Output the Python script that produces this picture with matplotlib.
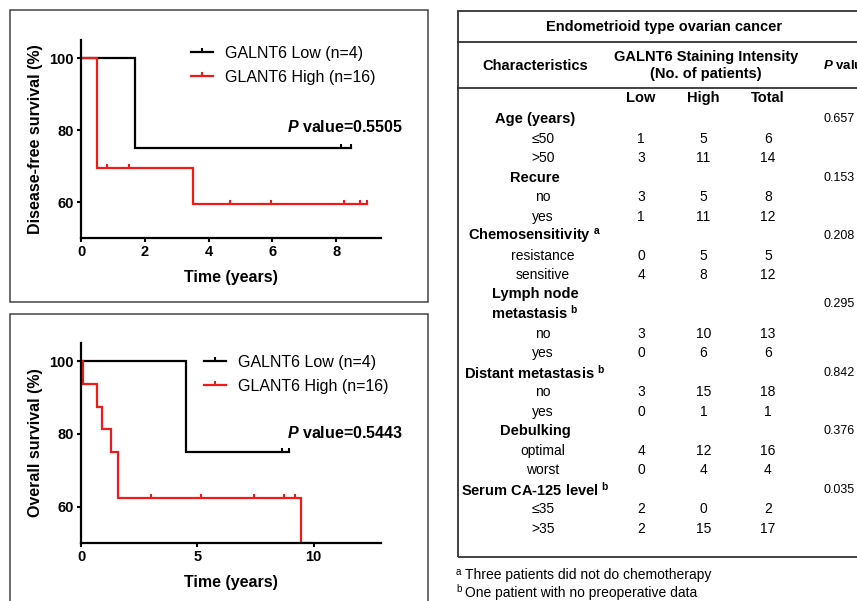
import numpy as np
import matplotlib
matplotlib.use('Agg')
import matplotlib.pyplot as plt
from matplotlib.lines import Line2D
from matplotlib.patches import Rectangle
from matplotlib.path import Path

plt.rcParams['font.family'] = ['Liberation Sans', 'DejaVu Sans']
plt.rcParams['mathtext.fontset'] = 'custom'
plt.rcParams['mathtext.rm'] = 'Liberation Sans'
plt.rcParams['mathtext.it'] = 'Liberation Sans:italic:bold'
plt.rcParams['mathtext.bf'] = 'Liberation Sans:bold'

# ---- Kaplan-Meier data ----
legend_labels = ['GALNT6 Low (n=4)', 'GLANT6 High (n=16)']

dfs_low_t = [0, 1.7, 8.45]
dfs_low_s = [100, 75, 75]
dfs_low_cens = [8.15, 8.45]
dfs_high_t = [0, 0.5, 3.5, 8.95]
dfs_high_s = [100, 69.4, 59.4, 59.4]
dfs_high_cens = [0.8, 1.5, 4.67, 5.96, 8.25, 8.75, 8.95]
dfs_p = '0.5505'

os_low_t = [0, 4.5, 8.96]
os_low_s = [100, 75, 75]
os_low_cens = [8.63, 8.96]
os_high_t = [0, 0.1, 0.7, 0.9, 1.3, 1.6, 9.45, 9.93]
os_high_s = [100, 93.75, 87.5, 81.25, 75, 62.5, 50, 50]
os_high_cens = [3.0, 5.17, 7.46, 8.74, 9.21]
os_p = '0.5443'

# ---- table data ----
table_title = 'Endometrioid type ovarian cancer'
groups = ['Age (years)', 'Recure', 'Chemosensitivity', 'Lymph node\nmetastasis',
          'Distant metastasis', 'Debulking', 'Serum CA-125 level']
group_notes = ['', '', 'a', 'b', 'b', '', 'b']
p_values = ['0.657', '0.153', '0.208', '0.295', '0.842', '0.376', '0.035']
subgroups = [['≤50', '>50'], ['no', 'yes'], ['resistance', 'sensitive'], ['no', 'yes'],
             ['no', 'yes'], ['optimal', 'worst'], ['≤35', '>35']]
low_counts = [[1, 3], [3, 1], [0, 4], [3, 0], [3, 0], [4, 0], [2, 2]]
high_counts = [[5, 11], [5, 11], [5, 8], [10, 6], [15, 1], [12, 4], [0, 15]]
total_counts = [[6, 14], [8, 12], [5, 12], [13, 6], [18, 1], [16, 4], [2, 17]]
footnotes = [('a', 'Three patients did not do chemotherapy'),
             ('b', 'One patient with no preoperative data')]

RED = '#f01a1a'
W, H = 857, 601
censor_mark = Path([(0, 0), (0, 1)])


def px(x, y):
    '''pixel position -> figure fraction'''
    return x / W, 1 - y / H


def surv_at(times, surv, t):
    idx = np.searchsorted(times, t, side='right') - 1
    return surv[idx]


def km_panel(ax, curves, xlim, xticks, ylabel, pval, ptext_xy, leg_anchor):
    for t, s, cens, color in curves:
        ax.step(t, s, where='post', color=color, lw=1.6, solid_joinstyle='miter')
        ax.plot(cens, [surv_at(t, s, c) for c in cens], ls='none', marker=censor_mark,
                ms=6, mew=1.5, color=color)

    ax.set_xlim(*xlim)
    ax.set_ylim(50, 105)
    ax.set_xticks(xticks)
    ax.set_yticks([60, 80, 100])
    for side in ['top', 'right']:
        ax.spines[side].set_visible(False)
    for side in ['left', 'bottom']:
        ax.spines[side].set_linewidth(1.6)
    ax.tick_params(direction='out', length=3, width=1.5, pad=2, labelsize=10.5)
    for lab in ax.get_xticklabels() + ax.get_yticklabels():
        lab.set_fontweight('bold')
    ax.set_xlabel('Time (years)', fontsize=11.5, fontweight='bold', labelpad=8)
    ax.set_ylabel(ylabel, fontsize=11.5, fontweight='bold', labelpad=5)

    ax.text(ptext_xy[0], ptext_xy[1], r'$P$ value=' + pval, fontsize=11.5,
            fontweight='bold', va='center', ha='left')

    handles = [Line2D([], [], color=c[3], lw=1.6, marker=censor_mark, ms=6, mew=1.5)
               for c in curves]
    ax.legend(handles, legend_labels, loc='upper left', bbox_to_anchor=leg_anchor,
              frameon=False, fontsize=11.5, handlelength=1.35, handletextpad=0.75,
              labelspacing=0.55, borderpad=0, borderaxespad=0, numpoints=1)


fig = plt.figure(figsize=(W / 100, H / 100), dpi=100)

# panel frames
fig.patches.append(Rectangle(px(10, 301.5), 418 / W, 291.5 / H, transform=fig.transFigure,
                             fill=False, ec='#444444', lw=1.1))
fig.patches.append(Rectangle(px(10, 620), 418 / W, 306 / H, transform=fig.transFigure,
                             fill=False, ec='#444444', lw=1.1))

ax1 = fig.add_axes([81 / W, 1 - 238 / H, 300 / W, 198 / H])
km_panel(ax1, [(dfs_low_t, dfs_low_s, dfs_low_cens, 'black'),
               (dfs_high_t, dfs_high_s, dfs_high_cens, RED)],
         (0, 9.4), [0, 2, 4, 6, 8], 'Disease-free survival (%)', dfs_p,
         (6.45, 80.8), (0.367, 0.97))

ax2 = fig.add_axes([81 / W, 1 - 543 / H, 300 / W, 200 / H])
km_panel(ax2, [(os_low_t, os_low_s, os_low_cens, 'black'),
               (os_high_t, os_high_s, os_high_cens, RED)],
         (0, 12.9), [0, 5, 10], 'Overall survival (%)', os_p,
         (8.84, 80.3), (0.41, 0.94))

# ---- table ----
fig.patches.append(Rectangle(px(458, 557), 420 / W, 546.3 / H, transform=fig.transFigure,
                             fill=False, ec='#333333', lw=1.3))
for yl in [42.3, 88.3]:
    fig.add_artist(Line2D([458 / W, 1.0], [1 - yl / H] * 2, transform=fig.transFigure,
                          color='#333333', lw=1.3))

fig.text(*px(664, 26.5), table_title, ha='center', va='center', fontsize=10.5,
         fontweight='bold')
fig.text(*px(535, 65.7), 'Characteristics', ha='center', va='center', fontsize=10.5,
         fontweight='bold')
fig.text(*px(706, 65.5), 'GALNT6 Staining Intensity\n(No. of patients)', ha='center',
         va='center', fontsize=10.5, fontweight='bold', linespacing=1.2)
fig.text(*px(823, 65.7), r'$P$ value', ha='left', va='center', fontsize=9.5,
         fontweight='bold')

col_x = [641, 703.5, 768]
for x, name in zip(col_x, ['Low', 'High', 'Total']):
    fig.text(*px(x, 98.3), name, ha='center', va='center', fontsize=10.5, fontweight='bold')

row_y0, row_step = 119, 19.52
row = 0
for g, note, p, subs, lo, hi, tot in zip(groups, group_notes, p_values, subgroups,
                                         low_counts, high_counts, total_counts):
    span = 2 if '\n' in g else 1
    yc = row_y0 + (row + (span - 1) / 2) * row_step
    label = g + (r' $^{\mathbf{%s}}$' % note if note else '')
    fig.text(*px(535, yc), label, ha='center', va='center', fontsize=10.5,
             fontweight='bold', linespacing=1.2, multialignment='center')
    fig.text(*px(824, yc), p, ha='left', va='center', fontsize=9)
    row += span
    for s, a, b, c in zip(subs, lo, hi, tot):
        y = row_y0 + row * row_step
        fig.text(*px(543, y), s, ha='center', va='center', fontsize=10)
        for x, v in zip(col_x, [a, b, c]):
            fig.text(*px(x, y), str(v), ha='center', va='center', fontsize=10)
        row += 1

for i, (mark, note) in enumerate(footnotes):
    y = 575 + i * 17.5
    fig.text(*px(456, y - 3), mark, ha='left', va='center', fontsize=7)
    fig.text(*px(465, y), note, ha='left', va='center', fontsize=10)

fig.savefig('out.png', dpi=100)
